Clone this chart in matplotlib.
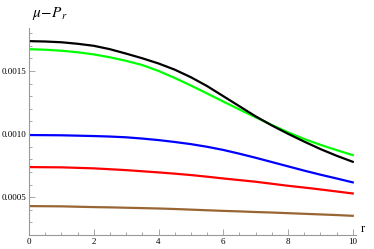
import numpy as np
import matplotlib.pyplot as plt
from matplotlib.ticker import MultipleLocator, FixedLocator

plt.rcParams['font.family'] = 'Liberation Serif'
plt.rcParams['mathtext.fontset'] = 'stix'

# values at half steps of r
r = [0, 0.5, 1, 1.5, 2, 2.5, 3, 3.5, 4, 4.5, 5, 5.5, 6, 6.5, 7, 7.5, 8, 8.5, 9, 9.5, 10]

black = [0.001736, 0.001733, 0.001727, 0.001715, 0.001699, 0.001672, 0.001637, 0.001600, 0.001559,
         0.001510, 0.001450, 0.001380, 0.001300, 0.001220, 0.001140, 0.001068, 0.001002, 0.000940,
         0.000881, 0.000828, 0.000780]
green = [0.001672, 0.001668, 0.001660, 0.001648, 0.001631, 0.001608, 0.001580, 0.001547, 0.001500,
         0.001445, 0.001385, 0.001322, 0.001258, 0.001195, 0.001133, 0.001072, 0.001014, 0.000961,
         0.000915, 0.000873, 0.000833]
blue = [0.000992, 0.000991, 0.000990, 0.000987, 0.000984, 0.000980, 0.000974, 0.000964, 0.000952,
        0.000937, 0.000920, 0.000899, 0.000874, 0.000844, 0.000812, 0.000778, 0.000744, 0.000710,
        0.000678, 0.000648, 0.000617]
red = [0.000738, 0.000737, 0.000736, 0.000732, 0.000728, 0.000721, 0.000714, 0.000705, 0.000696,
       0.000686, 0.000675, 0.000662, 0.000648, 0.000635, 0.000622, 0.000606, 0.000590, 0.000576,
       0.000561, 0.000545, 0.000529]
brown = [0.000429, 0.000428, 0.000427, 0.000424, 0.000421, 0.000419, 0.000416, 0.000413, 0.000410,
         0.000406, 0.000401, 0.000396, 0.000391, 0.000387, 0.000382, 0.000378, 0.000373, 0.000368,
         0.000363, 0.000358, 0.000352]

fig = plt.figure(figsize=(3.74, 2.49), dpi=100)
ax = fig.add_axes([29/374, 14/249, 327/374, 207/249])

lw = 1.6
ax.plot(r, brown, color=(0.6, 0.4, 0.2), lw=lw)
ax.plot(r, red, color=(1, 0, 0), lw=lw)
ax.plot(r, blue, color=(0, 0, 1), lw=lw)
ax.plot(r, green, color=(0, 1, 0), lw=lw)
ax.plot(r, black, color='black', lw=lw)

ax.set_xlim(0, 10.1)
ax.set_ylim(0.0002, 0.00184)

for s in ['top', 'right']:
    ax.spines[s].set_visible(False)
for s in ['left', 'bottom']:
    ax.spines[s].set_color('#999999')
    ax.spines[s].set_linewidth(0.8)

ax.xaxis.set_major_locator(FixedLocator([0, 2, 4, 6, 8, 10]))
ax.xaxis.set_minor_locator(MultipleLocator(0.5))
ax.yaxis.set_major_locator(FixedLocator([0.0005, 0.0010, 0.0015]))
ax.yaxis.set_minor_locator(MultipleLocator(0.0001))
ax.set_yticklabels(['0.0005', '0.0010', '0.0015'])
ax.tick_params(which='both', direction='in', color='#999999', width=0.6, labelsize=6.5, pad=2)
ax.tick_params(which='major', length=4)
ax.tick_params(which='minor', length=2)

fig.text(32/374, 1 - 14/249, r'$\mu\!-\!P_r$', fontsize=11, va='center', ha='left')
fig.text(361/374, 1 - 229/249, 'r', fontsize=9, va='center', ha='left')

fig.savefig('out.png', dpi=100)
